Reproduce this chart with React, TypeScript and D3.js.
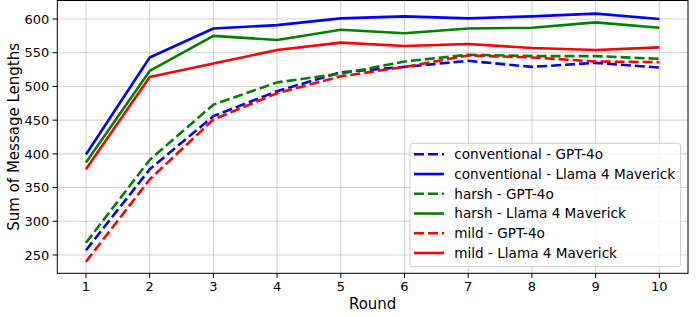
import * as d3 from "d3";
import { useEffect } from "react";

const width = 697;
const height = 317;
const margin = { top: 0.5, right: 9, bottom: 43.7, left: 57.3 };

const rounds = [1, 2, 3, 4, 5, 6, 7, 8, 9, 10];
const yTicks = [250, 300, 350, 400, 450, 500, 550, 600];

const conventionalGpt = [257, 377, 456, 493, 521, 529, 538, 529, 535, 528];
const conventionalLlama = [399, 543, 586, 591, 601, 604, 601, 604, 608, 600];
const harshGpt = [268, 391, 473, 506, 519, 537, 547, 545, 545, 541];
const harshLlama = [387, 523, 575, 569, 584, 579, 586, 587, 595, 587];
const mildGpt = [240, 362, 451, 490, 515, 529, 546, 543, 537, 536];
const mildLlama = [377, 514, 534, 554, 565, 560, 563, 557, 554, 558];

const seriesList = [
  { name: "conventional - GPT-4o", values: conventionalGpt, color: "#0000ff", dashed: true },
  { name: "conventional - Llama 4 Maverick", values: conventionalLlama, color: "#0000ff", dashed: false },
  { name: "harsh - GPT-4o", values: harshGpt, color: "#008000", dashed: true },
  { name: "harsh - Llama 4 Maverick", values: harshLlama, color: "#008000", dashed: false },
  { name: "mild - GPT-4o", values: mildGpt, color: "#ff0000", dashed: true },
  { name: "mild - Llama 4 Maverick", values: mildLlama, color: "#ff0000", dashed: false },
];

const font = "'DejaVu Sans', sans-serif";

export default function App() {
  useEffect(() => {
    document.body.style.margin = "0";
  }, []);

  const plotRight = width - margin.right;
  const plotBottom = height - margin.bottom;

  const xScale = d3.scaleLinear().domain([0.55, 10.45]).range([margin.left, plotRight]);
  const yScale = d3.scaleLinear().domain([222.8, 627.5]).range([plotBottom, margin.top]);

  const line = d3
    .line<number>()
    .x((_, i) => xScale(rounds[i]))
    .y((v) => yScale(v));

  const legendX = 410;
  const legendY = 143.3;
  const legendW = 270.7;
  const legendH = 123.4;

  return (
    <svg
      width={width}
      height={height}
      style={{ position: "absolute", left: 0, top: 0, background: "#fff", fontFamily: font }}
    >
      {/* grid */}
      <g stroke="#b0b0b0" strokeOpacity={0.55} strokeWidth={1.1}>
        {rounds.map((r) => (
          <line key={`gx${r}`} x1={xScale(r)} x2={xScale(r)} y1={margin.top} y2={plotBottom} />
        ))}
        {yTicks.map((t) => (
          <line key={`gy${t}`} x1={margin.left} x2={plotRight} y1={yScale(t)} y2={yScale(t)} />
        ))}
      </g>

      {/* lines */}
      {seriesList.map((s) => (
        <path
          key={s.name}
          d={line(s.values) ?? ""}
          fill="none"
          stroke={s.color}
          strokeWidth={2.6}
          strokeDasharray={s.dashed ? "10,4" : undefined}
          strokeLinejoin="round"
        />
      ))}

      {/* spines */}
      <rect
        x={margin.left}
        y={margin.top}
        width={plotRight - margin.left}
        height={plotBottom - margin.top}
        fill="none"
        stroke="#000"
        strokeWidth={1}
      />

      {/* x ticks */}
      {rounds.map((r) => (
        <g key={`xt${r}`} transform={`translate(${xScale(r)},${plotBottom})`}>
          <line y1={0} y2={4.8} stroke="#000" strokeWidth={1} />
          <text y={18} textAnchor="middle" fontSize={13} fill="#000">
            {r}
          </text>
        </g>
      ))}

      {/* y ticks */}
      {yTicks.map((t) => (
        <g key={`yt${t}`} transform={`translate(${margin.left},${yScale(t)})`}>
          <line x1={0} x2={-4.8} stroke="#000" strokeWidth={1} />
          <text x={-8} dy="0.36em" textAnchor="end" fontSize={13} fill="#000">
            {t}
          </text>
        </g>
      ))}

      {/* axis labels */}
      <text x={(margin.left + plotRight) / 2} y={309} textAnchor="middle" fontSize={15} fill="#000">
        Round
      </text>
      <text
        transform={`translate(18.5, ${(margin.top + plotBottom) / 2}) rotate(-90)`}
        textAnchor="middle"
        fontSize={15}
        fill="#000"
      >
        Sum of Message Lengths
      </text>

      {/* legend */}
      <rect
        x={legendX}
        y={legendY}
        width={legendW}
        height={legendH}
        rx={3}
        fill="#fff"
        fillOpacity={0.8}
        stroke="#cccccc"
        strokeWidth={1}
      />
      {seriesList.map((s, i) => {
        const y = 154.3 + i * 19.74;
        return (
          <g key={`lg${s.name}`}>
            <line
              x1={414}
              x2={444}
              y1={y}
              y2={y}
              stroke={s.color}
              strokeWidth={2.6}
              strokeDasharray={s.dashed ? "10,4" : undefined}
            />
            <text x={454.3} y={y} dy="0.36em" fontSize={13.6} fill="#000">
              {s.name}
            </text>
          </g>
        );
      })}
    </svg>
  );
}
